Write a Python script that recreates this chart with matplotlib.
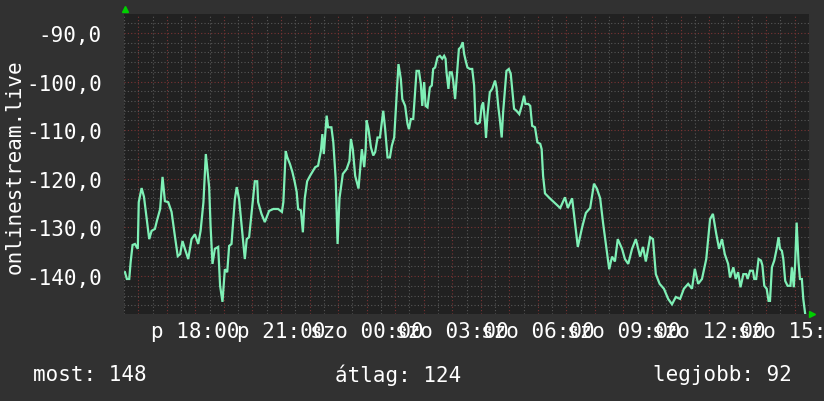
import matplotlib.pyplot as plt
import matplotlib.ticker as mticker

# minutes since Friday 15:30, signal value
minutes = [
    2, 6, 11, 14, 18, 23, 29, 31, 37, 42, 46, 53, 58, 65, 69, 76, 81, 86, 93, 100,
    107, 113, 118, 123, 128, 135, 142, 149, 156, 161, 167, 172, 179, 182, 186, 191, 198, 202, 207, 212,
    217, 221, 226, 233, 237, 242, 250, 254, 258, 263, 271, 275, 280, 282, 289, 296, 300, 305, 314, 324,
    332, 335, 340, 343, 349, 354, 359, 363, 366, 372, 376, 380, 385, 391, 402, 408, 414, 417, 420, 426,
    429, 436, 440, 445, 449, 453, 460, 468, 474, 477, 481, 486, 493, 500, 505, 508, 510, 514, 519, 524,
    528, 533, 538, 545, 549, 554, 559, 563, 568, 573, 577, 582, 585, 591, 596, 599, 603, 608, 612, 615,
    620, 624, 627, 631, 634, 638, 643, 647, 650, 654, 659, 664, 669, 673, 676, 678, 682, 685, 689, 692,
    696, 699, 704, 708, 712, 715, 719, 722, 727, 732, 736, 739, 743, 748, 752, 755, 759, 761, 764, 769,
    774, 780, 783, 787, 790, 794, 797, 801, 804, 809, 813, 816, 820, 825, 831, 836, 841, 844, 850, 854,
    858, 864, 869, 875, 878, 881, 885, 895, 906, 917, 927, 933, 942, 948, 954, 963, 971, 980, 988, 994,
    1001, 1007, 1013, 1020, 1026, 1032, 1038, 1047, 1053, 1060, 1068, 1076, 1085, 1091, 1097, 1106, 1112, 1118, 1126, 1135,
    1144, 1152, 1160, 1169, 1177, 1186, 1194, 1200, 1207, 1215, 1224, 1232, 1238, 1245, 1251, 1257, 1263, 1270, 1274, 1281,
    1286, 1291, 1296, 1302, 1308, 1311, 1316, 1322, 1325, 1329, 1334, 1339, 1342, 1346, 1351, 1355, 1358, 1362, 1367, 1372,
    1376, 1379, 1383, 1386, 1390, 1395, 1401, 1404, 1408, 1411, 1414, 1418, 1421, 1425, 1428, 1432,
]
values = [
    -139.2, -140.6, -140.6, -137.1, -133.6, -133.4, -134.4, -124.8, -121.9, -123.7, -126.8, -132.4, -130.7, -130.3, -128.7, -126.2, -119.6, -124.6, -124.8, -126.8,
    -131.8, -135.9, -135.5, -132.8, -134.4, -136.5, -132.4, -131.4, -133.4, -130.7, -124.8, -114.9, -121.7, -129.7, -137.5, -134.4, -134.0, -142.0, -145.3, -138.6,
    -139.2, -133.8, -133.4, -124.2, -121.7, -124.2, -132.4, -136.5, -132.4, -132.0, -124.2, -120.5, -120.5, -124.8, -127.2, -128.9, -127.9, -126.6, -126.2, -126.2,
    -126.8, -124.8, -114.3, -115.5, -117.0, -118.6, -120.7, -122.7, -126.2, -126.5, -131.0, -124.0, -120.5, -119.4, -117.6, -117.3, -114.2, -110.8, -114.9, -107.0,
    -109.4, -109.4, -112.5, -120.0, -133.4, -124.0, -119.0, -118.0, -116.3, -111.8, -113.9, -119.4, -122.0, -113.9, -117.6, -114.0, -108.0, -109.8, -113.5, -115.2,
    -114.5, -111.5, -111.5, -106.0, -109.8, -115.6, -115.6, -113.2, -111.5, -102.9, -96.4, -99.5, -103.6, -105.0, -108.7, -109.8, -107.7, -107.7, -101.9, -97.8,
    -97.8, -100.5, -105.0, -100.1, -105.0, -105.3, -101.2, -100.8, -97.4, -97.1, -95.0, -94.7, -95.3, -94.7, -95.3, -98.1, -101.5, -98.1, -98.1, -99.8,
    -103.6, -99.8, -93.3, -92.9, -91.9, -94.3, -96.0, -97.1, -97.4, -97.4, -100.8, -108.4, -108.7, -108.4, -105.0, -104.3, -108.4, -111.5, -107.0, -102.2,
    -101.5, -99.8, -101.2, -105.3, -107.7, -111.5, -106.3, -101.5, -97.8, -97.4, -98.4, -101.5, -105.6, -106.0, -106.7, -105.0, -102.9, -104.6, -104.6, -105.0,
    -109.1, -109.4, -112.5, -112.8, -113.9, -119.4, -123.0, -124.0, -125.0, -126.0, -123.8, -126.0, -124.0, -129.0, -134.0, -130.0, -127.0, -126.0, -121.0, -122.0,
    -124.0, -129.0, -133.4, -138.6, -136.0, -137.0, -132.4, -134.4, -136.5, -137.5, -134.4, -132.4, -136.0, -134.0, -137.0, -132.0, -132.4, -139.6, -141.6, -142.6,
    -144.7, -145.8, -144.3, -144.7, -142.6, -141.6, -142.6, -138.5, -141.6, -140.6, -136.5, -128.3, -127.2, -131.3, -134.4, -132.4, -135.5, -137.5, -140.3, -138.2,
    -140.6, -139.2, -142.3, -139.6, -139.6, -140.6, -138.9, -138.9, -140.6, -140.6, -136.5, -136.8, -137.8, -142.0, -142.6, -145.1, -145.1, -138.2, -136.8, -134.4,
    -132.0, -134.4, -134.8, -136.5, -141.0, -142.0, -142.0, -138.2, -142.3, -137.2, -129.0, -137.2, -140.6, -140.6, -144.7, -147.8,
]

tick_minutes = [150, 330, 510, 690, 870, 1050, 1230, 1410]
tick_labels = ["p 18:00", "p 21:00", "szo 00:00", "szo 03:00",
               "szo 06:00", "szo 09:00", "szo 12:00", "szo 15:00"]
y_ticks = [-140, -130, -120, -110, -100, -90]
series_name = "onlinestream.live"
summary = {"most": 148, "átlag": 124, "legjobb": 92}

bg = "#313131"
plot_bg = "#212121"
mono = "DejaVu Sans Mono"

fig = plt.figure(figsize=(8.24, 4.02), dpi=100, facecolor=bg)
ax = fig.add_axes([124 / 824, 87 / 402, 685 / 824, 300 / 402], facecolor=plot_bg)

ax.plot(minutes, values, color="#7ff0b6", lw=1.6, solid_joinstyle="miter")

ax.set_xlim(0, 1440)
ax.set_ylim(-147.8, -86.1)

ax.xaxis.set_major_locator(mticker.MultipleLocator(60, offset=30))
ax.xaxis.set_minor_locator(mticker.MultipleLocator(30))
ax.yaxis.set_major_locator(mticker.MultipleLocator(10))
ax.yaxis.set_minor_locator(mticker.MultipleLocator(2))

ax.grid(which="minor", color="#575757", lw=0.8, ls=(0, (1, 2)))
ax.grid(which="major", color="#7a3434", lw=0.8, ls=(0, (1, 2)))
ax.set_axisbelow(True)

ax.set_yticks(y_ticks)
ax.set_yticklabels([f"{v:.1f}".replace(".", ",") for v in y_ticks])
ax.tick_params(axis="both", which="both", length=0, colors="white")
ax.tick_params(axis="y", pad=16, labelsize=15)
ax.tick_params(axis="x", pad=4, labelsize=15)
for lbl in ax.get_yticklabels():
    lbl.set_family(mono)

# x labels drawn as text so they may overlap like in the original
ax.set_xticklabels([])
for m, lab in zip(tick_minutes, tick_labels):
    ax.text(m, -0.025, lab, transform=ax.get_xaxis_transform(), ha="center", va="top",
            color="white", fontsize=15, family=mono)

for s in ax.spines.values():
    s.set_visible(False)

ax.plot([0.002], [1.018], marker="^", color="#00d000", ms=5, transform=ax.transAxes, clip_on=False)
ax.plot([1.005], [0.0], marker=">", color="#00d000", ms=5, transform=ax.transAxes, clip_on=False)

fig.text(15 / 824, 0.585, series_name, rotation=90, ha="center", va="center",
         color="white", fontsize=15, family=mono)

fig.text(33 / 824, 27 / 402, f"most: {summary['most']}", ha="left", va="center",
         color="white", fontsize=15, family=mono)
fig.text(335 / 824, 27 / 402, f"átlag: {summary['átlag']}", ha="left", va="center",
         color="white", fontsize=15, family=mono)
fig.text(792 / 824, 27 / 402, f"legjobb: {summary['legjobb']}", ha="right", va="center",
         color="white", fontsize=15, family=mono)

fig.savefig("out.png", dpi=100, facecolor=bg)
